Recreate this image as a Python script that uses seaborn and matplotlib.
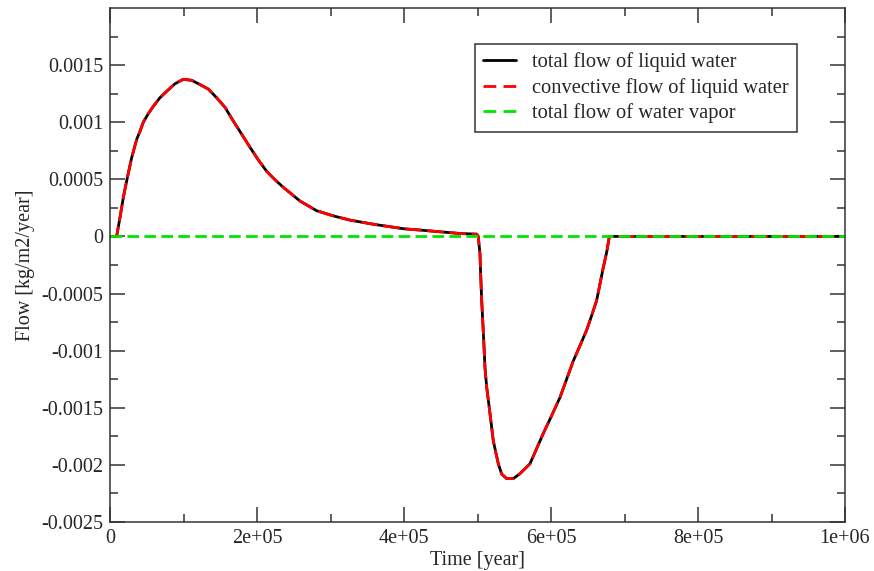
import numpy as np
import pandas as pd
import matplotlib
matplotlib.use("Agg")
import matplotlib.pyplot as plt
import seaborn as sns

# Data
time_year = [0, 9000, 13600, 18100, 22700, 29500, 36300, 40800, 45300, 52100,
             59000, 68000, 77000, 88400, 99700, 111100, 122400, 133800, 145000,
             156500, 167800, 179200, 190500, 201800, 213200, 224500, 235800,
             258500, 281200, 303800, 326500, 360000, 400000, 421800, 450000,
             476000, 498900, 501000, 503400, 504300, 505700, 508000, 510200,
             512500, 517000, 521500, 528300, 532900, 539700, 548700, 557800,
             571400, 589500, 601000, 612200, 630300, 639500, 648500, 655300,
             662100, 671200, 675700, 679400, 700000, 800000, 900000, 1000000]
liquid_total = [0, 0, 0.000166, 0.00034, 0.000487, 0.00069, 0.00085, 0.00092, 0.001, 0.001075,
                0.00114, 0.001215, 0.00127, 0.001337, 0.001376, 0.001367, 0.00133, 0.00129, 0.001215,
                0.00113, 0.00101, 0.000895, 0.00078, 0.00067, 0.00057, 0.000496, 0.00043,
                0.00031, 0.000225, 0.00018, 0.000143, 0.000105, 0.000067, 0.000056, 0.00004,
                0.000026, 0.00002, 0.0, -0.000154, -0.00033, -0.00056, -0.00085, -0.00115,
                -0.00132, -0.00155, -0.00179, -0.00199, -0.00208, -0.00212, -0.00212, -0.002077,
                -0.00199, -0.001725, -0.001567, -0.00141, -0.00109, -0.000955, -0.00082, -0.000693,
                -0.00056, -0.00027, -0.00014, 0.0, 0.0, 0.0, 0.0, 0.0]
liquid_convective = list(liquid_total)
vapor_total = [0.0] * len(time_year)

series_labels = ['total flow of liquid water', 'convective flow of liquid water',
                 'total flow of water vapor']

sns.set_style("ticks")
plt.rcParams['font.family'] = ['Liberation Serif', 'DejaVu Serif']

fig = plt.figure(figsize=(8.74, 5.71), dpi=100)
ax = fig.add_axes([110/874, 1-522/571, (845-110)/874, (522-8)/571])

sns.lineplot(x=time_year, y=liquid_total, ax=ax, color='black', lw=2,
             label=series_labels[0], sort=False, estimator=None)
sns.lineplot(x=time_year, y=liquid_convective, ax=ax, color='#ff0000', lw=2,
             linestyle=(0, (6, 2)), label=series_labels[1],
             sort=False, estimator=None)
sns.lineplot(x=time_year, y=vapor_total, ax=ax, color='#00e600', lw=2,
             linestyle=(0, (4.2, 1.9)), label=series_labels[2],
             sort=False, estimator=None)

ax.set_xlim(0, 1e6)
ax.set_ylim(-0.0025, 0.002)
xt = [0, 2e5, 4e5, 6e5, 8e5, 1e6]
xl = ['0', '2e+05', '4e+05', '6e+05', '8e+05', '1e+06']
yt = [-0.0025, -0.002, -0.0015, -0.001, -0.0005, 0, 0.0005, 0.001, 0.0015]
yl = ['-0.0025', '-0.002', '-0.0015', '-0.001', '-0.0005', '0', '0.0005', '0.001', '0.0015']
ax.set_xticks(xt)
ax.set_xticklabels(xl)
ax.set_yticks(yt)
ax.set_yticklabels(yl)
ax.set_xticks(np.arange(1e5, 1e6, 2e5), minor=True)
ax.set_yticks(np.arange(-0.00225, 0.002, 0.0005), minor=True)

ax.tick_params(which='both', direction='in', top=True, right=True,
               labelsize=14.5, width=1.1, color='#333333')
ax.tick_params(which='major', length=10.8, pad=5)
ax.tick_params(which='minor', length=5.5)
for s in ax.spines.values():
    s.set_linewidth(1.1)
    s.set_color('#333333')

ax.set_xlabel('Time [year]', fontsize=14.5, labelpad=2)
ax.set_ylabel('Flow [kg/m2/year]', fontsize=14.5, labelpad=4.5)

leg = ax.legend(loc='upper right', bbox_to_anchor=((797-110)/735, (522-43.5)/514),
                borderaxespad=0, fontsize=14.8, frameon=True, fancybox=False,
                handlelength=1.6, handletextpad=0.75, labelspacing=0.28,
                borderpad=0.42)
leg.get_frame().set_edgecolor('#333333')
leg.get_frame().set_linewidth(1.1)
leg.get_frame().set_alpha(1)
hl = leg.get_lines()
hl[1].set_linestyle((0, (4.6, 2.6)))
hl[2].set_linestyle((0, (4.6, 2.6)))

fig.savefig('out.png', dpi=100)
